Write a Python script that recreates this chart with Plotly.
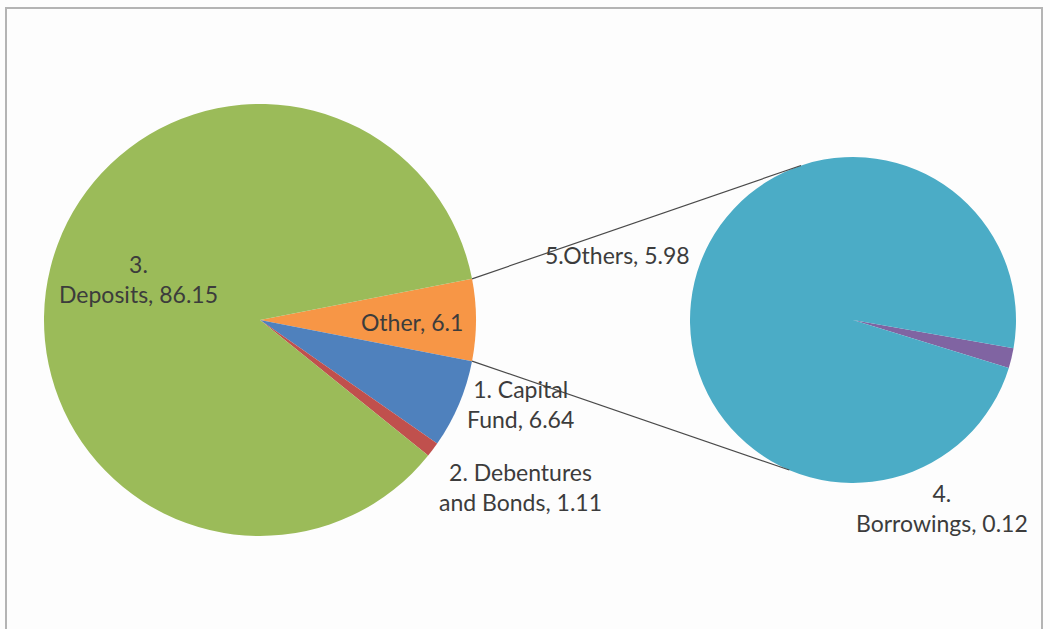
import math
import plotly.graph_objects as go

# Sources of funds (%), main breakdown
main_labels = ["Other", "1. Capital Fund", "2. Debentures and Bonds", "3. Deposits"]
main_values = [6.1, 6.64, 1.11, 86.15]
main_colors = ["#F79646", "#4F81BD", "#C0504D", "#9BBB59"]

# Split of "Other"
sub_labels = ["4. Borrowings", "5.Others"]
sub_values = [0.12, 5.98]
sub_colors = ["#8064A2", "#4BACC6"]

W, H = 1050, 629
# pie geometry in pixels (centre x, centre y from top, radius)
MAIN = (260, 320, 216)
SUB = (853, 320, 163)


def domain(c):
    cx, cy, r = c
    yb = H - cy
    return dict(x=[(cx - r) / W, (cx + r) / W], y=[(yb - r) / H, (yb + r) / H])


def px_to_paper(x, y):
    return x / W, (H - y) / H


def on_circle(c, ang_deg):
    cx, cy, r = c
    a = math.radians(ang_deg)
    return cx + r * math.cos(a), cy - r * math.sin(a)


other_half = main_values[0] / sum(main_values) * 360 / 2
sub_start = 10.0  # first sub slice starts just below 3 o'clock

fig = go.Figure()
fig.add_trace(go.Pie(
    labels=main_labels, values=main_values, sort=False, direction="clockwise",
    rotation=90 - other_half, marker=dict(colors=main_colors, line=dict(width=0)),
    textinfo="none", hoverinfo="label+value", domain=domain(MAIN), showlegend=False,
))
fig.add_trace(go.Pie(
    labels=sub_labels, values=sub_values, sort=False, direction="clockwise",
    rotation=90 + sub_start, marker=dict(colors=sub_colors, line=dict(width=0)),
    textinfo="none", hoverinfo="label+value", domain=domain(SUB), showlegend=False,
))

# connector lines between the "Other" slice and the secondary pie
shapes = []
for a_main, a_sub in [(other_half, 108.6), (-other_half, -113.0)]:
    x0, y0 = px_to_paper(*on_circle(MAIN, a_main))
    x1, y1 = px_to_paper(*on_circle(SUB, a_sub))
    shapes.append(dict(type="line", xref="paper", yref="paper", x0=x0, y0=y0, x1=x1, y1=y1,
                       line=dict(color="#4a4a4a", width=1.2)))

# chart area border
shapes.append(dict(type="rect", xref="paper", yref="paper",
                   x0=6 / W, x1=1042 / W, y0=-0.02, y1=(H - 8) / H,
                   line=dict(color="#b4b4b4", width=2), fillcolor="rgba(0,0,0,0)"))


def fmt(v):
    return f"{v:g}"


label_text = {
    "3. Deposits": f"3.<br>Deposits, {fmt(main_values[3])}",
    "Other": f"Other, {fmt(main_values[0])}",
    "1. Capital Fund": f"1. Capital<br>Fund, {fmt(main_values[1])}",
    "2. Debentures and Bonds": f"2. Debentures<br>and Bonds, {fmt(main_values[2])}",
    "5.Others": f"5.Others, {fmt(sub_values[1])}",
    "4. Borrowings": f"4.<br>Borrowings, {fmt(sub_values[0])}",
}
label_pos = {
    "3. Deposits": (138, 279),
    "Other": (412, 322),
    "1. Capital Fund": (520, 404),
    "2. Debentures and Bonds": (520, 487),
    "5.Others": (617, 255),
    "4. Borrowings": (942, 508),
}
annotations = []
for k, txt in label_text.items():
    x, y = px_to_paper(*label_pos[k])
    annotations.append(dict(x=x, y=y, xref="paper", yref="paper", text=txt, showarrow=False,
                            xanchor="center", yanchor="middle", align="center",
                            font=dict(family="Lato, Open Sans, sans-serif", size=23, color="#3c3c3c")))

fig.update_layout(
    width=W, height=H, margin=dict(l=0, r=0, t=0, b=0),
    paper_bgcolor="#fdfdfd", plot_bgcolor="#fdfdfd",
    shapes=shapes, annotations=annotations,
)

fig.write_html("out.html")
